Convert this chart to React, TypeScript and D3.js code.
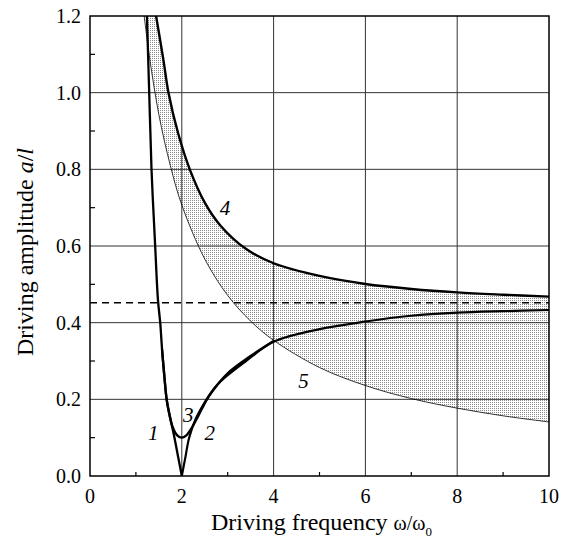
import React from 'react';
import * as d3 from 'd3';

// ---- data ----
const xTicks = [0, 2, 4, 6, 8, 10];
const yTicks = [0, 0.2, 0.4, 0.6, 0.8, 1.0, 1.2];
const xMinor = [1, 3, 5, 7, 9];
const yMinor = [0.1, 0.3, 0.5, 0.7, 0.9, 1.1];

// curve 1: left branch of lower boundary
const curve1: [number, number][] = [
  [1.24, 1.2], [1.29, 1.0], [1.34, 0.8], [1.42, 0.6], [1.48, 0.46], [1.53, 0.4],
  [1.57, 0.33], [1.62, 0.26], [1.67, 0.2], [1.75, 0.15], [1.84, 0.1], [1.92, 0.05], [2.0, 0.0],
];
// curve 2: right branch of lower boundary
const curve2: [number, number][] = [
  [2.0, 0.0], [2.08, 0.05], [2.16, 0.1], [2.3, 0.148], [2.54, 0.2], [2.75, 0.235],
  [3.0, 0.263], [3.4, 0.3], [4.0, 0.35], [5.0, 0.383], [6.0, 0.403], [7.0, 0.418],
  [8.0, 0.426], [9.0, 0.43], [10.0, 0.433],
];
// curve 3: boundary with minimum at (2, 0.1)
const curve3: [number, number][] = [
  [1.57, 0.33], [1.62, 0.26], [1.67, 0.2], [1.71, 0.172], [1.8, 0.128], [1.9, 0.106],
  [2.0, 0.1], [2.1, 0.106], [2.2, 0.122], [2.32, 0.148], [2.45, 0.178], [2.6, 0.21],
  [3.0, 0.268], [3.5, 0.313], [4.0, 0.352],
];
// curve 4: upper boundary
const curve4: [number, number][] = [
  [1.44, 1.2], [1.6, 1.085], [1.71, 1.0], [1.92, 0.894], [2.18, 0.798], [2.51, 0.711],
  [2.83, 0.655], [3.38, 0.594], [4.0, 0.555], [5.0, 0.522], [6.0, 0.501], [7.0, 0.488],
  [8.0, 0.479], [9.0, 0.473], [10.0, 0.468],
];
// curve 5: thin line
const curve5: [number, number][] = [
  [1.18, 1.2], [1.3, 1.09], [1.5, 0.943], [1.75, 0.81], [2.0, 0.707], [2.5, 0.566],
  [3.0, 0.471], [3.5, 0.404], [4.0, 0.354], [5.0, 0.283], [6.0, 0.236], [7.0, 0.202],
  [8.0, 0.177], [9.0, 0.157], [10.0, 0.141],
];
const dashedLevel = 0.452;

const curveLabels = [
  { t: '1', x: 1.38, y: 0.112 },
  { t: '2', x: 2.61, y: 0.112 },
  { t: '3', x: 2.14, y: 0.159 },
  { t: '4', x: 2.94, y: 0.699 },
  { t: '5', x: 4.65, y: 0.25 },
];

const W = 571;
const H = 542;
const M = { left: 90, top: 16, right: 22, bottom: 66 };

export default function App() {
  const x = d3.scaleLinear().domain([0, 10]).range([M.left, W - M.right]);
  const y = d3.scaleLinear().domain([0, 1.2]).range([H - M.bottom, M.top]);
  const line = d3
    .line<[number, number]>()
    .x((d) => x(d[0]))
    .y((d) => y(d[1]))
    .curve(d3.curveCatmullRom.alpha(0.5));

  const shade =
    (line(curve5) as string) +
    'L' +
    (line([...curve4].reverse()) as string).slice(1) +
    'Z';

  const font = "'Liberation Serif', 'Times New Roman', serif";
  const x0 = x(0), x1 = x(10), y0 = y(0), y1 = y(1.2);

  return (
    <svg width={W} height={H} style={{ position: 'absolute', left: 0, top: 0, background: '#fff' }}>
      <defs>
        <pattern id="dots" width={2} height={2} patternUnits="userSpaceOnUse">
          <rect x={0} y={0} width={1} height={1} fill="#8a8a8a" />
        </pattern>
        <clipPath id="plot">
          <rect x={x0} y={y1} width={x1 - x0} height={y0 - y1} />
        </clipPath>
      </defs>
      <path d={shade} fill="url(#dots)" stroke="none" clipPath="url(#plot)" />
      {/* grid */}
      {xTicks.slice(1, -1).map((t) => (
        <line key={'gx' + t} x1={x(t)} x2={x(t)} y1={y0} y2={y1} stroke="#333" strokeWidth={1} />
      ))}
      {yTicks.slice(1, -1).map((t) => (
        <line key={'gy' + t} x1={x0} x2={x1} y1={y(t)} y2={y(t)} stroke="#333" strokeWidth={1} />
      ))}
      {/* minor ticks */}
      {xMinor.map((t) => (
        <line key={'mx' + t} x1={x(t)} x2={x(t)} y1={y0} y2={y0 - 4} stroke="#000" strokeWidth={1.2} />
      ))}
      {yMinor.map((t) => (
        <line key={'my' + t} x1={x0} x2={x0 + 5} y1={y(t)} y2={y(t)} stroke="#000" strokeWidth={1.2} />
      ))}
      <g clipPath="url(#plot)" fill="none" strokeLinejoin="round" strokeLinecap="round">
        <path d={line(curve5) as string} stroke="#000" strokeWidth={0.8} />
        <path d={line(curve1) as string} stroke="#000" strokeWidth={2.3} />
        <path d={line(curve2) as string} stroke="#000" strokeWidth={2.2} />
        <path d={line(curve3) as string} stroke="#000" strokeWidth={2.4} />
        <path d={line(curve4) as string} stroke="#000" strokeWidth={2.4} />
      </g>
      <line x1={x0} x2={x1} y1={y(dashedLevel)} y2={y(dashedLevel)} stroke="#000" strokeWidth={1.6} strokeDasharray="7,5" />
      {/* frame */}
      <rect x={x0} y={y1} width={x1 - x0} height={y0 - y1} fill="none" stroke="#000" strokeWidth={1.5} />
      {/* tick labels */}
      {xTicks.map((t) => (
        <text key={'tx' + t} x={x(t)} y={y0 + 27} textAnchor="middle" fontFamily={font} fontSize={20}>
          {t}
        </text>
      ))}
      {yTicks.map((t) => (
        <text key={'ty' + t} x={x0 - 9} y={y(t)} dy="0.35em" textAnchor="end" fontFamily={font} fontSize={20}>
          {t.toFixed(1)}
        </text>
      ))}
      {/* curve labels */}
      {curveLabels.map((l) => (
        <text key={'cl' + l.t} x={x(l.x)} y={y(l.y)} dy="0.35em" textAnchor="middle" fontFamily={font} fontSize={21} fontStyle="italic">
          {l.t}
        </text>
      ))}
      {/* axis titles */}
      <text x={(x0 + x1) / 2 + 2} y={530} textAnchor="middle" fontFamily={font} fontSize={24}>
        Driving frequency <tspan fontSize={20}>ω/ω</tspan>
        <tspan fontSize={13} dy={6}>0</tspan>
      </text>
      <text
        transform={`translate(33, 252) rotate(-90)`}
        textAnchor="middle"
        fontFamily={font}
        fontSize={24}
      >
        Driving amplitude <tspan fontStyle="italic">a</tspan>/<tspan fontStyle="italic">l</tspan>
      </text>
    </svg>
  );
}
